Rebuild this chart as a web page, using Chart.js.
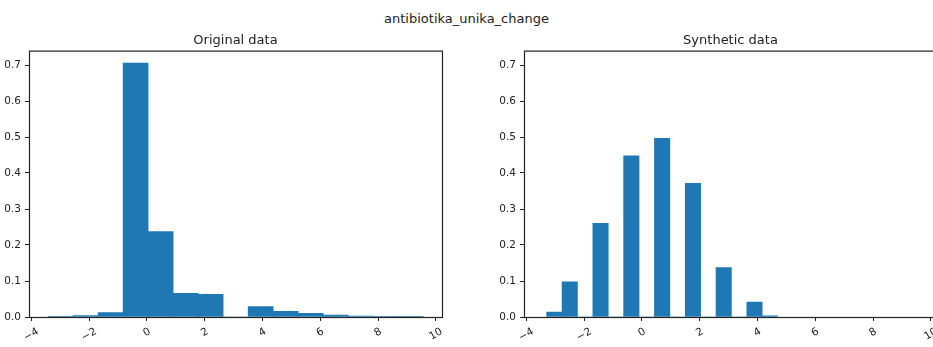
<!DOCTYPE html>
<html>
<head>
<meta charset="utf-8">
<script src="https://cdn.jsdelivr.net/npm/chart.js@4.4.1/dist/chart.umd.min.js"></script>
<style>
  html, body { margin: 0; padding: 0; background: #fff; overflow: hidden; }
  body { width: 933px; height: 347px; position: relative; }
  #suptitle {
    position: absolute; left: 0; top: 11px; width: 933px;
    text-align: center; font: 13px/15px "DejaVu Sans", sans-serif; color: #222;
  }
  canvas { position: absolute; top: 0; }
  #origChart { left: 0; }
  #synthChart { left: 495px; }
</style>
</head>
<body>
<div id="suptitle">antibiotika_unika_change</div>
<canvas id="origChart" width="466" height="347"></canvas>
<canvas id="synthChart" width="466" height="347"></canvas>
<script>
// histogram bin centres and densities (15 bins each)
const origBins = [-2.987, -2.121, -1.256, -0.391, 0.475, 1.340, 2.205, 3.071, 3.936, 4.801, 5.667, 6.532, 7.397, 8.263, 9.128];
const origDensity = [0.002, 0.0037, 0.012, 0.705, 0.237, 0.0657, 0.063, 0, 0.0287, 0.0157, 0.0102, 0.0056, 0.0025, 0.0002, 0.0002];

const synthBins = [-3.030, -2.497, -1.964, -1.431, -0.899, -0.366, 0.167, 0.700, 1.232, 1.765, 2.298, 2.830, 3.363, 3.896, 4.428];
const synthDensity = [0.0139, 0.098, 0, 0.260, 0, 0.448, 0, 0.496, 0, 0.371, 0, 0.137, 0, 0.0417, 0.003];

const xTicks = [-4, -2, 0, 2, 4, 6, 8, 10];
const yTicks = [0, 0.1, 0.2, 0.3, 0.4, 0.5, 0.6, 0.7];
const xMin = -4.08, xMax = 10.21;
const yMax = 0.74;

const BAR = '#1f77b4';
const INK = '#222';
const FONT = '"DejaVu Sans", sans-serif';

function fmtX(v) {
  return v < 0 ? '\u2212' + Math.abs(v) : String(v);
}

// closed box around the plot area plus rotated x tick labels
const axesDecor = {
  id: 'axesDecor',
  afterDraw(chart) {
    const { ctx, chartArea: a } = chart;
    const xs = chart.scales.x;
    ctx.save();
    ctx.strokeStyle = INK;
    ctx.lineWidth = 1.2;
    ctx.strokeRect(a.left + 0.5, a.top + 0.5, a.right - a.left, a.bottom - a.top);

    const rad = 30 * Math.PI / 180;
    ctx.font = '10.5px ' + FONT;
    ctx.fillStyle = INK;
    ctx.textAlign = 'center';
    ctx.textBaseline = 'middle';
    xTicks.forEach(v => {
      const label = fmtX(v);
      const w = ctx.measureText(label).width;
      const boxH = w * Math.sin(rad) + 10 * Math.cos(rad);
      const px = xs.getPixelForValue(v);
      const cy = a.bottom + 9.5 + boxH / 2;
      ctx.save();
      ctx.translate(px, cy);
      ctx.rotate(-rad);
      ctx.fillText(label, 0, 0);
      ctx.restore();
    });
    ctx.restore();
  }
};

function makeHist(id, title, bins, dens) {
  return new Chart(document.getElementById(id), {
    type: 'bar',
    data: {
      datasets: [{
        data: bins.map((x, i) => ({ x: x, y: dens[i] })),
        backgroundColor: BAR,
        borderWidth: 0,
        barPercentage: 1,
        categoryPercentage: 1
      }]
    },
    options: {
      responsive: false,
      animation: false,
      layout: { padding: { left: 0, right: 24, top: 0, bottom: 0 } },
      plugins: {
        legend: { display: false },
        tooltip: { enabled: false },
        title: {
          display: true,
          text: title,
          fullSize: false,
          color: INK,
          font: { family: FONT, size: 13, weight: 'normal', lineHeight: 1.2 },
          padding: { top: 33, bottom: 2 }
        }
      },
      scales: {
        x: {
          type: 'linear',
          min: xMin,
          max: xMax,
          offset: false,
          afterBuildTicks: s => { s.ticks = xTicks.map(v => ({ value: v })); },
          afterFit: s => { s.height = 30; },
          ticks: { display: false },
          grid: { offset: false, drawOnChartArea: false, drawTicks: true, tickLength: 4, color: INK },
          border: { display: false }
        },
        y: {
          min: 0,
          max: yMax,
          afterBuildTicks: s => { s.ticks = yTicks.map(v => ({ value: v })); },
          afterFit: s => { s.width = 29; },
          ticks: {
            color: INK,
            padding: 4,
            font: { family: FONT, size: 10.5 },
            callback: v => v.toFixed(1)
          },
          grid: { drawOnChartArea: false, drawTicks: true, tickLength: 4, color: INK },
          border: { display: false }
        }
      }
    },
    plugins: [axesDecor]
  });
}

makeHist('origChart', 'Original data', origBins, origDensity);
makeHist('synthChart', 'Synthetic data', synthBins, synthDensity);
</script>
</body>
</html>
